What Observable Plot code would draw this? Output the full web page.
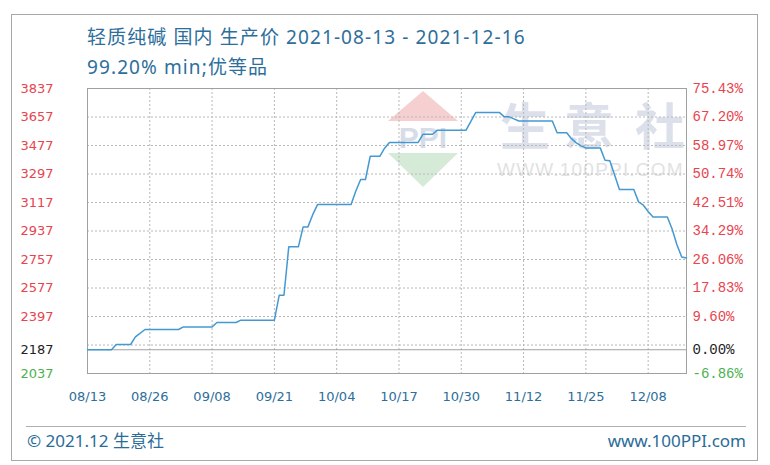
<!DOCTYPE html>
<html>
<head>
<meta charset="utf-8">
<script src="https://cdn.jsdelivr.net/npm/d3@7"></script>
<script src="https://cdn.jsdelivr.net/npm/@observablehq/plot@0.6"></script>
<style>
  html, body { margin: 0; padding: 0; background: #fff; }
  #wrap { position: relative; width: 770px; height: 465px; overflow: hidden; font-family: "Noto Sans", "Noto Sans CJK SC", sans-serif; }
  .abs { position: absolute; white-space: nowrap; }
  #box { left: 11px; top: 14px; width: 747px; height: 447px; border: 1px solid #a8a8a8; box-sizing: border-box; }
  .title { left: 87px; color: #2d6e9b; font-size: 19px; line-height: 24px; letter-spacing: 1.1px; }
  #sep { left: 26px; top: 426px; width: 720px; height: 0; border-top: 1px solid #b0b0b0; }
  .foot { top: 429px; color: #2a6c98; font-size: 17px; line-height: 24px; }
  #chart { position: absolute; left: 0; top: 78px; }
  .wm { position: absolute; white-space: nowrap; }
  .wmc { font-family: "Noto Sans CJK SC"; font-weight: 700; font-size: 50px; line-height: 60px; color: #dce0eb; top: 93px; }
</style>
</head>
<body>
<div id="wrap">
  <div id="box" class="abs"></div>
  <div class="abs title" style="top:25px">轻质纯碱 国内 生产价 2021-08-13 - 2021-12-16</div>
  <div class="abs title" style="top:55px">99.20% min;优等品</div>
  <!-- watermark -->
  <svg class="wm" style="left:380px;top:85px" width="90" height="110">
    <polygon points="43,6 8,36 78,36" fill="#f6d0d0"/>
    <polygon points="8,68 78,68 43,102" fill="#d5ebd8"/>
    <text x="43" y="63" text-anchor="middle" font-family="Liberation Sans, sans-serif" font-weight="bold" font-size="30" fill="#d6dce8">PPI</text>
  </svg>
  <div class="wm wmc" style="left:500px">生</div>
  <div class="wm wmc" style="left:564px">意</div>
  <div class="wm wmc" style="left:635px">社</div>
  <div class="wm" style="left:497px;top:158px;font-family:'Liberation Sans';font-size:19px;line-height:24px;color:#e2e2e2;letter-spacing:1.2px">WWW.100PPI.COM</div>
  <div id="chart"></div>
  <div id="sep" class="abs"></div>
  <div class="abs foot" style="left:27px">© 2021.12 生意社</div>
  <div class="abs foot" style="right:24px">www.100PPI.com</div>
</div>
<script>
// ---- data ----
const dates = [
  "2021-08-13","2021-08-18","2021-08-19","2021-08-22","2021-08-23","2021-08-25",
  "2021-09-01","2021-09-02","2021-09-08","2021-09-09","2021-09-13","2021-09-14",
  "2021-09-21","2021-09-22","2021-09-23","2021-09-24","2021-09-26","2021-09-27",
  "2021-09-28","2021-09-29","2021-09-30","2021-10-07","2021-10-08","2021-10-09",
  "2021-10-10","2021-10-11","2021-10-13","2021-10-14","2021-10-15","2021-10-21",
  "2021-10-22","2021-10-24","2021-10-25","2021-10-31","2021-11-01","2021-11-02",
  "2021-11-07","2021-11-08","2021-11-09","2021-11-10","2021-11-11","2021-11-18",
  "2021-11-19","2021-11-21","2021-11-22","2021-11-23","2021-11-24","2021-11-25",
  "2021-11-28","2021-11-29","2021-11-30","2021-12-01","2021-12-02","2021-12-05",
  "2021-12-06","2021-12-07","2021-12-08","2021-12-09","2021-12-12","2021-12-13",
  "2021-12-14","2021-12-15","2021-12-16"
];
const prices = [
  2187,2187,2220,2220,2268,2315,
  2315,2331,2331,2359,2359,2374,
  2374,2531,2531,2837,2837,2963,
  2963,3040,3104,3104,3190,3262,
  3262,3409,3409,3460,3496,3496,
  3548,3548,3574,3574,3630,3685,
  3685,3658,3658,3645,3632,3632,
  3557,3557,3520,3494,3475,3462,
  3462,3384,3380,3290,3199,3199,
  3121,3100,3060,3026,3026,2950,
  2850,2773,2767
];
const basePrice = 2187;
const yTicks = [3837,3657,3477,3297,3117,2937,2757,2577,2397,2187,2037];
const yTickLabels = ["3837","3657","3477","3297","3117","2937","2757","2577","2397","2187","2037"];
const pctTickLabels = ["75.43%","67.20%","58.97%","50.74%","42.51%","34.29%","26.06%","17.83%","9.60%","0.00%","-6.86%"];
const gridValues = [3837,3657,3477,3297,3117,2937,2757,2577,2397,2217,2037];
const xTickDates = ["2021-08-13","2021-08-26","2021-09-08","2021-09-21","2021-10-04","2021-10-17","2021-10-30","2021-11-12","2021-11-25","2021-12-08"];
const xTickLabels = ["08/13","08/26","09/08","09/21","10/04","10/17","10/30","11/12","11/25","12/08"];
const xStart = "2021-08-13", xEnd = "2021-12-16";
const yMin = 2037, yMax = 3837;

// ---- build ----
const series = dates.map((d, i) => ({date: new Date(d), price: prices[i]}));
const yT = yTicks.map((v, i) => ({v, label: yTickLabels[i], pct: pctTickLabels[i]}));
const xT = xTickDates.map((d, i) => ({d: new Date(d), label: xTickLabels[i]}));
const labelColor = v => v > basePrice ? "#e8444e" : (v === basePrice ? "#222222" : "#4cb050");

const chart = Plot.plot({
  width: 770,
  height: 330,
  marginLeft: 87,
  marginRight: 84,
  marginTop: 10,
  marginBottom: 35,
  style: {background: "transparent", overflow: "visible"},
  x: {type: "utc", domain: [new Date(xStart), new Date(xEnd)], axis: null},
  y: {domain: [yMin, yMax], axis: null},
  marks: [
    Plot.ruleY(gridValues, {y: d => d, stroke: "#b8b8b8", strokeDasharray: "2,2"}),
    Plot.ruleX(xT, {x: "d", stroke: "#b8b8b8", strokeDasharray: "2,2"}),
    Plot.ruleY([basePrice], {y: d => d, stroke: "#a0a0a0"}),
    Plot.frame({stroke: "#a0a0a0"}),
    Plot.line(series, {x: "date", y: "price", stroke: "#4499d2", strokeWidth: 1.5}),
    Plot.text(yT, {y: "v", text: "label", frameAnchor: "left", dx: -34, textAnchor: "end",
      fill: d => labelColor(d.v), fontFamily: "DejaVu Sans", fontSize: 13}),
    Plot.text(yT, {y: "v", text: "pct", frameAnchor: "right", dx: 6, textAnchor: "start",
      fill: d => labelColor(d.v), fontFamily: "Liberation Mono", fontSize: 14}),
    Plot.text(xT, {x: "d", text: "label", frameAnchor: "bottom", dy: 27,
      fill: "#2d6e9b", fontFamily: "DejaVu Sans", fontSize: 13})
  ]
});
document.getElementById("chart").appendChild(chart);
</script>
</body>
</html>
